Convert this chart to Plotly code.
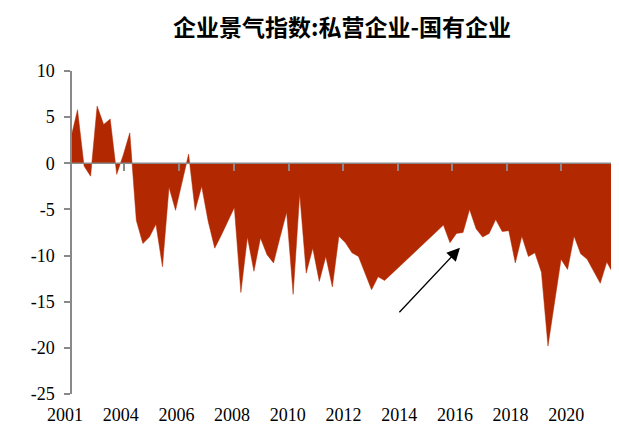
import plotly.graph_objects as go

# Quarterly categories 2001Q1 .. 2021Q4
quarters = [f"{y}Q{q}" for y in range(2001, 2022) for q in range(1, 5)]

# 企业景气指数: 私营企业 - 国有企业 (None = no observation, line joins across)
spread = [2.8, 5.8, -0.3, -1.4, 6.2, 4.2, 4.8, -1.2, 0.9, 3.3,
          -6.2, -8.7, -8.0, -6.6, -11.2, -2.6, -5.1, -2.1, 1.0, -5.1,
          -2.5, -6.3, -9.2, -7.8, -6.3, -4.8, -14.0, -8.0, -11.7, -8.1,
          -9.9, -10.8, -8.0, -5.3, -14.2, -3.3, -11.9, -9.2, -12.8, -10.1,
          -13.4, -7.9, -8.6, -9.7, -10.1, -11.8, -13.7, -12.3, -12.7, None,
          None, None, None, None, None, None, None, -6.7, -8.6, -7.6,
          -7.5, -5.0, -7.1, -8.0, -7.6, -6.1, -7.4, -7.3, -10.8, -7.9,
          -10.1, -9.7, -11.8, -19.8, -15.0, -10.4, -11.5, -7.9, -9.8, -10.4,
          -11.7, -13.0, -10.7, -12.0]

year_labels = ["2001", "2004", "2006", "2008", "2010", "2012", "2014", "2016", "2018", "2020"]
y_ticks = [10, 5, 0, -5, -10, -15, -20, -25]
y_text = ["10", "5", "0", "-5", "-10", "-15", "-20", "-25"]

TITLE = "企业景气指数:私营企业-国有企业"
RED = "#B22800"
GRAY = "#898989"
SERIF = "Liberation Serif, Times New Roman, serif"

xs = list(range(len(quarters)))
n_last = len(quarters) - 1

# page offset of the figure inside the window (default body margin)
OFF = 8
W, H = 619 - OFF, 432 - OFF

# layout geometry (in quarter-index units)
x_range = [-4.744, 83.87]
label_pos = [-0.918 + 8.525 * k for k in range(len(year_labels))]
mark_pos = [8.11, 16.57, 24.95, 33.36, 41.63, 50.05, 58.31, 66.72, 75.0]

fig = go.Figure()
fig.add_trace(go.Scatter(
    x=xs, y=spread, mode="lines", fill="tozeroy", fillcolor=RED,
    line=dict(color=RED, width=0.5), connectgaps=True,
    showlegend=False, hoverinfo="skip"))
# helper trace so the zero-line tick axis is drawn
fig.add_trace(go.Scatter(x=[0], y=[0], xaxis="x2", mode="markers",
                         marker=dict(opacity=0), showlegend=False, hoverinfo="skip"))

fig.update_layout(
    width=W, height=H,
    margin=dict(l=40 - OFF, r=0, t=71 - OFF, b=38),
    paper_bgcolor="white", plot_bgcolor="white",
    title=dict(text=TITLE, xref="container", yref="container",
               x=(342 - OFF) / W, xanchor="center", y=1 - (28 - OFF) / H, yanchor="middle",
               font=dict(family="Noto Sans CJK SC", size=23, color="black", weight="bold")),
    xaxis=dict(domain=[0, 1], range=x_range, anchor="y", showgrid=False, zeroline=False,
               showline=False, ticks="", tickmode="array", tickvals=label_pos,
               ticktext=year_labels, ticklabelstandoff=8,
               tickfont=dict(family=SERIF, size=18, color="black")),
    xaxis2=dict(overlaying="x", range=x_range, anchor="free", position=25 / 35,
                side="bottom", showgrid=False, zeroline=False, showline=False,
                ticks="outside", ticklen=7, tickwidth=1.5, tickcolor=GRAY,
                tickmode="array", tickvals=mark_pos, showticklabels=False),
    yaxis=dict(range=[-25, 10], anchor="free", position=31 / 579, showgrid=False,
               zeroline=False, showline=True, linecolor=GRAY, linewidth=1.5,
               ticks="outside", ticklen=6, tickwidth=1.5, tickcolor=GRAY,
               tickmode="array", tickvals=y_ticks, ticktext=y_text, ticklabelstandoff=6,
               tickfont=dict(family=SERIF, size=18, color="black")),
    shapes=[dict(type="line", xref="x", yref="y", x0=0, x1=n_last, y0=0, y1=0,
                 line=dict(color=GRAY, width=1.5), layer="above")],
    annotations=[dict(x=59.53, y=-9.16, xref="x", yref="y", ax=-62, ay=66,
                      text="", showarrow=True, arrowhead=2, arrowsize=2,
                      arrowwidth=1.3, arrowcolor="black", standoff=0)],
)

fig.write_html("out.html")
